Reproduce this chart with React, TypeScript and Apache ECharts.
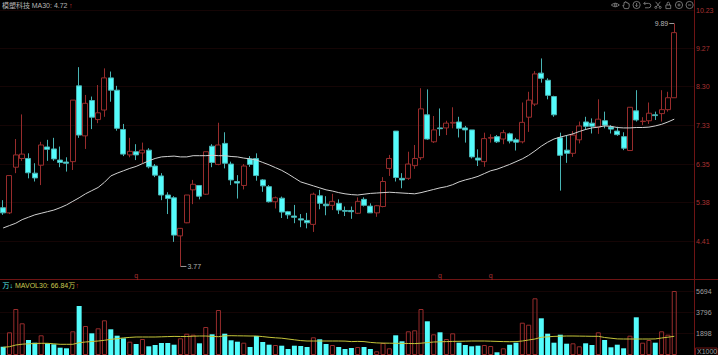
import React, { useEffect, useRef } from "react";
import * as echarts from "echarts";

// [open, close, low, high]
const candles: number[][] = [
  [5.25,5.12,5.07,5.44],[5.12,6.06,5.09,6.06],[6.27,6.58,6.12,6.98],[6.49,6.60,6.43,7.60],[6.49,6.13,5.99,6.62],
  [6.12,6.00,5.91,6.37],[6.32,6.83,5.82,6.91],[6.78,6.72,6.43,6.96],[6.73,6.48,6.43,7.01],[6.45,6.39,6.27,6.79],
  [6.40,6.37,6.16,6.52],[6.41,7.96,6.20,7.96],[8.32,7.08,7.01,8.79],[7.06,7.88,6.73,8.09],[7.95,7.53,7.23,8.05],
  [7.47,7.64,7.38,8.34],[7.71,8.52,7.54,8.76],[8.52,8.21,7.92,8.68],[8.21,7.25,7.19,8.32],[7.22,6.60,6.55,7.36],
  [6.58,6.67,6.52,7.01],[6.66,6.58,6.45,6.85],[6.63,6.70,6.37,6.89],[6.70,6.28,6.24,6.75],[6.30,6.07,6.02,6.35],
  [6.05,5.57,5.44,6.12],[5.57,5.48,5.09,5.64],[5.50,4.56,4.39,5.54],[4.54,4.73,3.77,4.74],[4.87,5.57,4.86,5.57],
  [5.70,5.84,5.34,5.95],[5.81,5.54,5.46,5.82],[5.59,6.66,5.57,6.66],[6.80,6.39,6.27,6.85],[6.34,6.83,6.32,7.39],
  [6.87,6.37,6.24,7.15],[6.35,5.95,5.82,6.41],[5.91,5.87,5.48,6.07],[5.81,6.30,5.71,6.35],[6.48,6.34,6.28,6.55],
  [6.49,6.06,5.93,6.62],[5.95,5.80,5.65,5.97],[5.78,5.40,5.38,5.82],[5.40,5.50,5.23,5.53],[5.49,5.14,4.99,5.53],
  [5.15,5.07,4.97,5.17],[5.04,5.01,4.86,5.32],[4.97,4.94,4.76,5.09],[4.93,4.87,4.73,5.12],[4.83,5.59,4.64,5.63],
  [5.55,5.36,5.21,5.70],[5.34,5.30,5.06,5.54],[5.31,5.41,5.19,5.60],[5.36,5.19,5.09,5.46],[5.18,5.16,5.04,5.28],
  [5.18,5.15,4.97,5.28],[5.11,5.41,5.09,5.51],[5.46,5.31,5.28,5.51],[5.29,5.12,5.12,5.36],[5.12,5.30,5.02,5.32],
  [5.28,5.91,5.26,6.02],[6.24,6.49,6.05,6.58],[7.18,6.01,5.91,7.18],[5.99,5.95,5.74,6.12],[5.99,6.35,5.95,6.66],
  [6.31,6.49,6.23,6.83],[6.51,7.74,6.45,8.26],[7.59,6.98,6.96,8.23],[6.91,7.21,6.88,7.56],[7.26,7.24,7.06,7.75],
  [7.26,7.38,7.08,7.44],[7.38,7.40,7.25,7.78],[7.41,7.25,7.02,7.54],[7.26,7.21,6.89,7.31],[7.21,6.53,6.49,7.21],
  [6.50,6.45,6.30,6.72],[6.41,6.99,6.28,7.14],[7.00,7.02,6.89,7.10],[7.04,6.91,6.88,7.08],[6.98,7.14,6.85,7.21],
  [7.11,6.93,6.87,7.14],[6.96,6.90,6.69,7.01],[6.91,7.40,6.87,7.90],[7.53,7.96,7.16,8.17],[7.86,8.62,7.81,8.69],
  [8.64,8.51,8.40,9.01],[8.46,8.08,7.98,8.51],[8.05,7.59,7.54,8.07],[7.01,6.57,5.68,7.14],[6.70,6.62,6.38,7.08],
  [6.62,7.08,6.53,7.18],[6.96,7.31,6.87,7.42],[7.41,7.30,7.21,7.54],[7.38,7.30,7.12,7.50],[7.28,7.48,7.11,7.98],
  [7.44,7.33,7.25,7.67],[7.28,7.23,7.12,7.33],[7.18,7.09,7.06,7.29],[7.04,6.75,6.70,7.15],[6.69,7.78,6.69,7.78],
  [7.69,7.46,7.42,8.21],[7.42,7.43,7.33,7.53],[7.44,7.63,7.36,7.90],[7.59,7.57,7.46,7.67],[7.62,7.72,7.42,8.21],
  [7.72,8.02,7.67,8.17],[8.02,9.66,8.02,9.89],
];

const ma30 = [
  4.74,4.80,4.86,4.95,5.01,5.07,5.11,5.15,5.19,5.25,5.32,5.41,5.50,5.60,5.68,5.76,5.89,6.05,6.12,6.18,
  6.24,6.29,6.36,6.43,6.49,6.53,6.54,6.55,6.53,6.53,6.56,6.56,6.56,6.57,6.56,6.56,6.54,6.53,6.50,6.48,
  6.45,6.39,6.33,6.26,6.19,6.10,6.00,5.90,5.85,5.80,5.75,5.70,5.67,5.63,5.60,5.58,5.57,5.59,5.61,5.62,
  5.63,5.64,5.63,5.62,5.61,5.60,5.63,5.67,5.71,5.75,5.78,5.83,5.90,5.95,5.99,6.04,6.11,6.18,6.22,6.28,
  6.34,6.41,6.48,6.57,6.68,6.80,6.90,6.98,7.03,7.07,7.11,7.17,7.22,7.26,7.28,7.31,7.30,7.27,7.26,7.26,
  7.27,7.27,7.28,7.31,7.35,7.41,7.48,
];

const volumes = [
  739,2020,4094,2821,1335,1095,1753,1041,952,650,596,2109,4361,2581,1931,2376,3088,2287,1718,1486,
  1184,979,1424,774,890,1068,1068,917,1486,1896,1807,1041,2492,1842,4005,1896,1308,1184,1095,712,
  1691,1157,917,890,828,534,828,801,712,1575,1397,979,890,712,534,623,712,712,534,329,
  1068,596,1753,1219,2109,2198,4094,2999,1842,2020,1424,1931,1095,890,774,828,890,801,240,596,
  917,1095,2875,2697,5046,3266,1896,1095,1807,1006,1041,774,1041,890,2020,1335,685,917,596,1718,
  3355,1095,1335,1095,2109,1807,5696,
];

const mavol30 = [
  685,739,890,961,997,1024,1041,1041,997,952,952,952,1095,1157,1202,1246,1308,1397,1451,1522,
  1566,1602,1602,1602,1602,1620,1638,1655,1647,1647,1673,1691,1691,1655,1629,1709,1718,1709,1700,1691,
  1691,1638,1575,1531,1495,1424,1353,1282,1246,1246,1246,1246,1246,1246,1237,1193,1210,1193,1121,1077,
  1059,1050,1041,1032,1024,1015,1050,1104,1157,1175,1193,1210,1219,1228,1246,1246,1246,1228,1210,1193,
  1184,1193,1246,1335,1424,1575,1620,1655,1673,1691,1691,1682,1673,1664,1664,1558,1495,1433,1424,1424,
  1424,1424,1424,1433,1513,1584,1664,
];

const categories = candles.map((_, i) => String(i));
const priceTicks = [10.23, 9.27, 8.30, 7.33, 6.35, 5.38, 4.41];
const volumeTicks = [1898, 3796, 5694];
const qMarkers = [21, 69, 77];
const highLabel = { index: 106, value: 9.89 };
const lowLabel = { index: 28, value: 3.77 };

const FONT = '"Liberation Sans", "Noto Sans CJK SC", sans-serif';
const RED = "#982c2c";
const CYAN = "#54fcfc";
const CYAN_EDGE = "#48b4b4";
const GRID_RED = "#150505";
const FS = 7;

const ICONS: [string, string][] = [
  ["icEye", "M0 5 Q5 0.5 10 5 Q5 9.5 0 5 Z M3.5 5 A1.5 1.5 0 1 0 6.5 5 A1.5 1.5 0 1 0 3.5 5 Z"],
  ["icHand", "M3 9.5 L1 5.5 L2.5 5.5 L2.5 2 L3.8 2 L3.8 1 L5.2 1 L5.2 2 L6.5 2 L6.5 2.5 L7.8 2.5 L7.8 3.5 L9 3.5 L9 7 L8 9.5 Z"],
  ["icBack", "M0.5 5 A4.5 4.5 0 1 0 9.5 5 A4.5 4.5 0 1 0 0.5 5 Z M5 2.5 L5 7 M3.5 5.5 L5 7 L6.5 5.5"],
  ["icUndo", "M1 3 L7 3 A2.7 2.7 0 0 1 7 8.5 L2.5 8.5 M1 3 L3 1 M1 3 L3 5"],
  ["icCut", "M2 1 L7 7 M8 1 L3 7 M1 8 A1.3 1.3 0 1 0 3.6 8 A1.3 1.3 0 1 0 1 8 Z M6.4 8 A1.3 1.3 0 1 0 9 8 A1.3 1.3 0 1 0 6.4 8 Z"],
  ["icLock", "M2 5 L8 5 L8 9.5 L2 9.5 Z M3.5 5 L3.5 3 A1.5 1.5 0 0 1 6.5 3 L6.5 5"],
  ["icPlus", "M0.5 5 A4.5 4.5 0 1 0 9.5 5 A4.5 4.5 0 1 0 0.5 5 Z M3 5 L7 5 M5 3 L5 7"],
  ["icMinus", "M0.5 5 A4.5 4.5 0 1 0 9.5 5 A4.5 4.5 0 1 0 0.5 5 Z M3 5 L7 5"],
];
ICONS.forEach(([name, d]) => {
  echarts.graphic.registerShape(name, echarts.graphic.extendPath(d, {}));
});
const ICON_X = [615.3, 626, 636.6, 647, 658, 668.3, 679, 689.6];

function txt(x: number, y: number, text: string, fill: string, align = "left") {
  return {
    type: "text",
    x,
    y,
    silent: true,
    style: { text, fill, font: `${FS}px ${FONT}`, align, verticalAlign: "middle" },
  };
}

export default function App() {
  const ref = useRef<HTMLDivElement>(null);
  useEffect(() => {
    document.body.style.margin = "0";
    document.body.style.background = "#000";
    const chart = echarts.init(ref.current!, null, { renderer: "svg" });
    const hiddenCat = (gridIndex: number) => ({
      type: "category" as const,
      gridIndex,
      data: categories,
      show: false,
      boundaryGap: true,
    });
    const plainCat = (gridIndex: number) => ({
      type: "category" as const,
      gridIndex,
      data: ["a"],
      show: false,
    });
    const priceRange = { min: 3.429, max: 10.482 };
    const volRange = { min: 0, max: 6675 };
    const scaleAxis = (gridIndex: number, ticks: number[], range: any, labelColor: string, digits: number) => ({
      type: "value" as const,
      gridIndex,
      position: "right" as const,
      ...range,
      axisLine: { show: true, lineStyle: { color: "#6e1414", width: 1 } },
      axisTick: { show: false, customValues: ticks },
      axisLabel: {
        show: true,
        customValues: ticks,
        color: labelColor,
        fontSize: FS,
        fontFamily: FONT,
        margin: 2,
        showMinLabel: true,
        showMaxLabel: true,
        formatter: (v: number) => v.toFixed(digits),
      },
      splitLine: { show: true, lineStyle: { color: GRID_RED, width: 1 } },
    });
    chart.setOption({
      animation: false,
      backgroundColor: "#000",
      grid: [
        { left: 0, width: 694, top: 0, height: 280 },
        { left: -1.17, width: 678.6, top: 0, height: 280 },
        { left: 0, width: 694, top: 280, height: 75 },
        { left: -1.17, width: 678.6, top: 280, height: 75 },
      ],
      xAxis: [plainCat(0), hiddenCat(1), plainCat(2), hiddenCat(3)],
      yAxis: [
        scaleAxis(0, priceTicks, priceRange, "#a83232", 2),
        { type: "value", gridIndex: 1, show: false, ...priceRange },
        scaleAxis(2, volumeTicks, volRange, "#a0a0a0", 0),
        { type: "value", gridIndex: 3, show: false, ...volRange },
      ],
      series: [
        {
          type: "candlestick",
          xAxisIndex: 1,
          yAxisIndex: 1,
          data: candles,
          barWidth: 5.5,
          itemStyle: {
            color: "transparent",
            color0: CYAN,
            borderColor: RED,
            borderColor0: CYAN_EDGE,
            borderWidth: 1,
          },
        },
        {
          type: "line",
          name: "MA30",
          xAxisIndex: 1,
          yAxisIndex: 1,
          data: ma30,
          symbol: "none",
          smooth: false,
          lineStyle: { color: "#d0d0d0", width: 1 },
        },
        {
          type: "bar",
          name: "VOL",
          xAxisIndex: 3,
          yAxisIndex: 3,
          barWidth: 5,
          data: volumes.map((v, i) => {
            const up = candles[i][1] >= candles[i][0];
            return {
              value: v,
              itemStyle: up
                ? { color: "transparent", borderColor: RED, borderWidth: 1 }
                : { color: CYAN, borderColor: CYAN, borderWidth: 0 },
            };
          }),
        },
        {
          type: "line",
          name: "MAVOL30",
          xAxisIndex: 3,
          yAxisIndex: 3,
          data: mavol30,
          symbol: "none",
          lineStyle: { color: "#c4c43a", width: 1 },
          z: 5,
        },
      ],
    });

    const px = (i: number, v: number) =>
      chart.convertToPixel({ xAxisIndex: 1, yAxisIndex: 1 }, [i, v]) as number[];
    const hi = px(highLabel.index, highLabel.value);
    const lo = px(lowLabel.index, lowLabel.value);
    const lineStyle = { stroke: "#9a9a9a", lineWidth: 1 };
    const graphics: any[] = [
      { type: "line", silent: true, shape: { x1: 0, y1: 279.5, x2: 718, y2: 279.5 }, style: { stroke: "#6e1414", lineWidth: 1 } },
      txt(2, 5, "模塑科技", "#b4b4b4"),
      txt(31.7, 5, "MA30: 4.72", "#b4b4b4"),
      txt(69, 5, "↑", "#d83030"),
      txt(2.5, 285.5, "万", "#54e8e8"),
      txt(9.5, 285.5, "↓", "#54e8e8"),
      txt(15, 285.5, "MAVOL30: 66.84万", "#c8c850"),
      txt(75.5, 285.5, "↑", "#d83030"),
      { type: "rect", silent: true, shape: { x: 695.5, y: 348, width: 21.5, height: 8 }, style: { stroke: "#6e1414", fill: "transparent", lineWidth: 1 } },
      txt(697, 351, "X1000", "#a0a0a0"),
      { type: "line", silent: true, shape: { x1: hi[0] - 5, y1: hi[1], x2: hi[0], y2: hi[1] }, style: lineStyle },
      txt(hi[0] - 6, hi[1], highLabel.value.toFixed(2), "#b4b4b4", "right"),
      { type: "line", silent: true, shape: { x1: lo[0], y1: lo[1], x2: lo[0] + 6, y2: lo[1] }, style: lineStyle },
      txt(lo[0] + 7, lo[1], lowLabel.value.toFixed(2), "#b4b4b4"),
      ...qMarkers.map((i) => txt(px(i, 5)[0], 275.5, "q", "#a83232", "center")),
      ...ICONS.map(([name], i) => ({
        type: name,
        silent: true,
        x: ICON_X[i] - 4,
        y: 1,
        scaleX: 0.8,
        scaleY: 0.8,
        style: { stroke: "#8c8c8c", fill: "transparent", lineWidth: 1 },
      })),
    ];
    chart.setOption({ graphic: graphics });
    return () => chart.dispose();
  }, []);
  return (
    <div
      ref={ref}
      style={{ position: "fixed", left: 0, top: 0, width: 718, height: 355, background: "#000" }}
    />
  );
}
